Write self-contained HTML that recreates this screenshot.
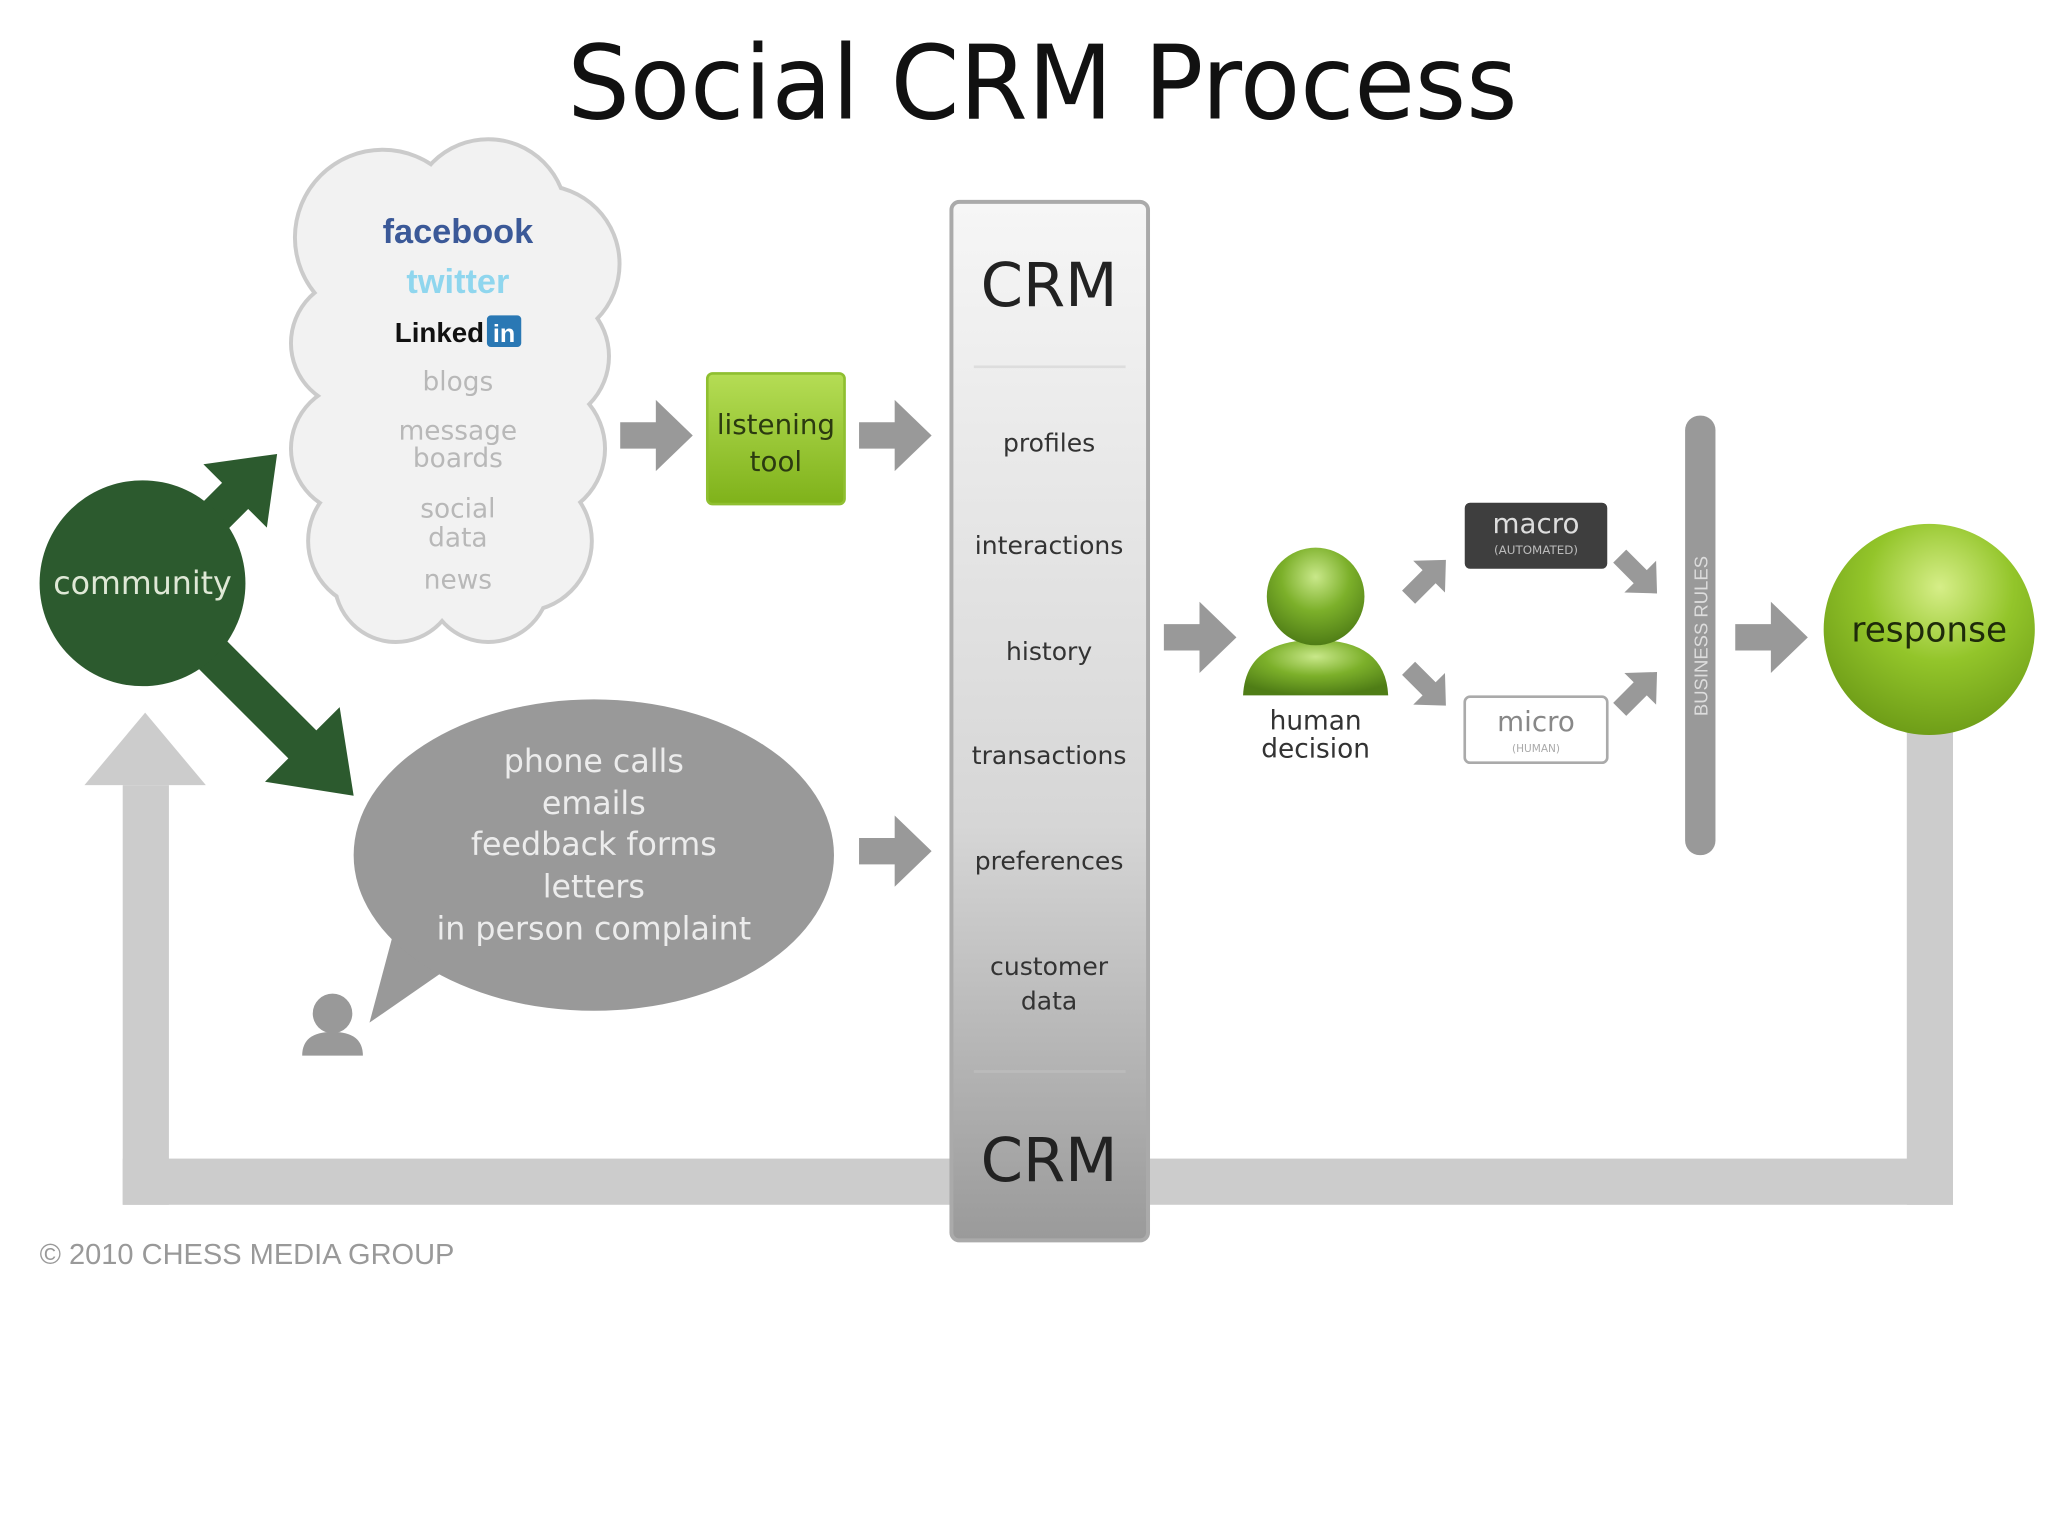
<!DOCTYPE html>
<html><head><meta charset="utf-8"><style>html,body{margin:0;padding:0;background:#fff}svg{display:block}</style></head>
<body>
<svg width="2048" height="1536" viewBox="0 0 1552 1164" xmlns="http://www.w3.org/2000/svg" font-family="'DejaVu Sans','Liberation Sans',sans-serif">
<defs>
<linearGradient id="crm" x1="0" y1="0" x2="0" y2="1"><stop offset="0" stop-color="#f6f6f6"/><stop offset="0.6" stop-color="#d6d6d6"/><stop offset="1" stop-color="#9a9a9a"/></linearGradient>
<linearGradient id="lt" x1="0" y1="0" x2="0" y2="1"><stop offset="0" stop-color="#b5dd55"/><stop offset="1" stop-color="#7fb21a"/></linearGradient>
<radialGradient id="resp" cx="0.55" cy="0.3" r="0.7"><stop offset="0" stop-color="#d6ee88"/><stop offset="0.5" stop-color="#93c52a"/><stop offset="1" stop-color="#6f9e18"/></radialGradient>
<radialGradient id="hum" cx="0.5" cy="0.3" r="0.7"><stop offset="0" stop-color="#c9e88a"/><stop offset="0.5" stop-color="#7cb02a"/><stop offset="1" stop-color="#4f7d16"/></radialGradient>
<path id="ba" d="M-27,-10 H0 V-27 L28,0 L0,27 V10 H-27 Z" fill="#999"/>
<path id="sa" d="M-22,-7 H0 V-17 L18,0 L0,17 V7 H-22 Z" fill="#999"/>
</defs>
<text x="790" y="90" text-anchor="middle" font-size="78" fill="#111" textLength="720" lengthAdjust="spacingAndGlyphs">Social CRM Process</text>

<!-- feedback loop -->
<rect x="93" y="595" width="35" height="318" fill="#ccc"/>
<polygon points="64,595 156,595 110,540" fill="#ccc"/>
<rect x="93" y="878" width="1387" height="35" fill="#ccc"/>
<rect x="1445" y="540" width="35" height="373" fill="#ccc"/>

<!-- cloud -->
<g fill="#f2f2f2" stroke="#cbcbcb" stroke-width="6">
<circle cx="290" cy="180" r="65"/><circle cx="370" cy="165" r="58"/><circle cx="410" cy="200" r="58"/>
<circle cx="270" cy="260" r="48"/><circle cx="410" cy="270" r="50"/><circle cx="270" cy="340" r="48"/><circle cx="405" cy="340" r="52"/>
<circle cx="285" cy="410" r="50"/><circle cx="395" cy="410" r="52"/><circle cx="300" cy="440" r="45"/><circle cx="370" cy="440" r="45"/>
</g>
<g fill="#f2f2f2">
<circle cx="290" cy="180" r="65"/><circle cx="370" cy="165" r="58"/><circle cx="410" cy="200" r="58"/>
<circle cx="270" cy="260" r="48"/><circle cx="410" cy="270" r="50"/><circle cx="270" cy="340" r="48"/><circle cx="405" cy="340" r="52"/>
<circle cx="285" cy="410" r="50"/><circle cx="395" cy="410" r="52"/><circle cx="300" cy="440" r="45"/><circle cx="370" cy="440" r="45"/>
<rect x="260" y="180" width="160" height="260"/>
</g>
<g text-anchor="middle">
<text x="347" y="184" font-size="26" font-weight="bold" fill="#3b5998" font-family="'Liberation Sans',sans-serif">facebook</text>
<text x="347" y="222" font-size="26" font-weight="bold" fill="#8fd6ee" font-family="'Liberation Sans',sans-serif">twitter</text>
<text x="333" y="259" font-size="21" font-weight="bold" fill="#111" font-family="'Liberation Sans',sans-serif">Linked</text>
<rect x="369" y="239" width="26" height="24" rx="3" fill="#2a78b4"/><text x="382" y="259" font-size="19" font-weight="bold" fill="#fff" font-family="'Liberation Sans',sans-serif">in</text>
<g fill="#b8b8b8" font-size="20"><text x="347" y="296">blogs</text><text x="347" y="333">message</text><text x="347" y="354">boards</text><text x="347" y="392">social</text><text x="347" y="414">data</text><text x="347" y="446">news</text></g>
</g>

<!-- community -->
<g fill="#2c5a2e">
<g transform="translate(210,344) rotate(-45)"><path d="M-110,-14 H-45 V-34 L0,0 L-45,34 V14 H-110 Z"/></g>
<g transform="translate(268,603) rotate(45)"><path d="M-170,-15 H-55 V-40 L0,0 L-55,40 V15 H-170 Z"/></g>
<circle cx="108" cy="442" r="78"/>
</g>
<text x="108" y="450" text-anchor="middle" font-size="24" fill="#dfe8d6">community</text>

<!-- listening tool -->
<use href="#ba" x="497" y="330"/>
<rect x="536" y="283" width="104" height="99" rx="4" fill="url(#lt)" stroke="#8fbf30" stroke-width="2"/>
<text x="588" y="329" text-anchor="middle" font-size="21" fill="#2b3a10">listening</text>
<text x="588" y="357" text-anchor="middle" font-size="21" fill="#2b3a10">tool</text>
<use href="#ba" x="678" y="330"/>

<!-- speech bubble -->
<polygon points="300,700 345,730 280,775" fill="#999"/>
<ellipse cx="450" cy="648" rx="182" ry="118" fill="#999"/>
<g text-anchor="middle" font-size="24" fill="#ececec"><text x="450" y="585">phone calls</text><text x="450" y="617">emails</text><text x="450" y="648">feedback forms</text><text x="450" y="680">letters</text><text x="450" y="712">in person complaint</text></g>
<circle cx="252" cy="768" r="15" fill="#999"/><path d="M229,800 Q229,782 252,782 Q275,782 275,800 Z" fill="#999"/>
<use href="#ba" x="678" y="645"/>

<!-- CRM column -->
<rect x="721" y="153" width="149" height="787" rx="6" fill="url(#crm)" stroke="#aaa" stroke-width="3"/>
<line x1="738" y1="278" x2="853" y2="278" stroke="#ddd" stroke-width="2"/>
<line x1="738" y1="812" x2="853" y2="812" stroke="#bbb" stroke-width="2"/>
<g text-anchor="middle" fill="#222">
<text x="795" y="232" font-size="46">CRM</text>
<text x="795" y="895" font-size="46">CRM</text>
<g font-size="19" fill="#333"><text x="795" y="342">profiles</text><text x="795" y="420">interactions</text><text x="795" y="500">history</text><text x="795" y="579">transactions</text><text x="795" y="659">preferences</text><text x="795" y="739">customer</text><text x="795" y="765">data</text></g>
</g>

<!-- human decision -->
<use href="#ba" x="909" y="483"/>
<path d="M942,527 Q944,485 997,485 Q1050,485 1052,527 Z" fill="url(#hum)"/>
<circle cx="997" cy="452" r="37" fill="url(#hum)"/>
<text x="997" y="553" text-anchor="middle" font-size="20" fill="#333">human</text>
<text x="997" y="574" text-anchor="middle" font-size="20" fill="#333">decision</text>

<use href="#sa" transform="translate(1083,437) rotate(-45)"/>
<use href="#sa" transform="translate(1083,522) rotate(45)"/>
<use href="#sa" transform="translate(1243,437) rotate(45)"/>
<use href="#sa" transform="translate(1243,522) rotate(-45)"/>

<rect x="1110" y="381" width="108" height="50" rx="4" fill="#3e3e3e"/>
<text x="1164" y="404" text-anchor="middle" font-size="21" fill="#ddd">macro</text>
<text x="1164" y="420" text-anchor="middle" font-size="9" fill="#bbb">(AUTOMATED)</text>
<rect x="1110" y="528" width="108" height="50" rx="4" fill="#fff" stroke="#aaa" stroke-width="2"/>
<text x="1164" y="554" text-anchor="middle" font-size="21" fill="#888">micro</text>
<text x="1164" y="570" text-anchor="middle" font-size="8" fill="#aaa">(HUMAN)</text>

<rect x="1277" y="315" width="23" height="333" rx="11" fill="#999"/>
<text transform="translate(1294,482) rotate(-90)" text-anchor="middle" font-size="14" fill="#ddd" font-family="'Liberation Sans',sans-serif">BUSINESS RULES</text>

<use href="#ba" x="1342" y="483"/>
<circle cx="1462" cy="477" r="80" fill="url(#resp)"/>
<text x="1462" y="486" text-anchor="middle" font-size="26" fill="#1e2a0a">response</text>

<text x="30" y="958" font-size="22" fill="#999" font-family="'Liberation Sans',sans-serif">© 2010 CHESS MEDIA GROUP</text>
</svg>
</body></html>
